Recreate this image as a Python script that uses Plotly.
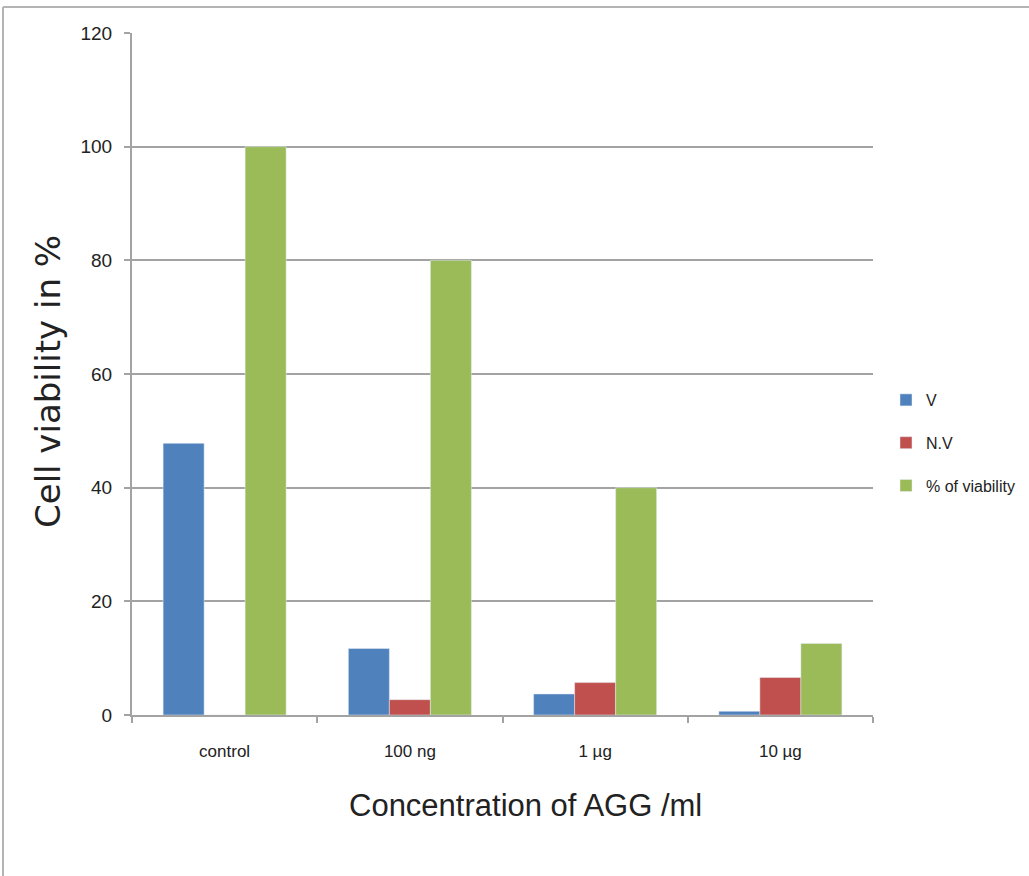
import plotly.graph_objects as go

# Cell viability after AGG treatment
categories = ["control", "100 ng", "1 µg", "10 µg"]
viable = [47.8, 11.7, 3.7, 0.65]
non_viable = [0, 2.7, 5.7, 6.6]
pct_viability = [100, 80, 40, 12.6]
y_ticks = [0, 20, 40, 60, 80, 100, 120]

NARROW = "Liberation Sans Narrow, Arial Narrow, Liberation Sans, sans-serif"
GRID = "#a3a3a3"

fig = go.Figure()
fig.add_trace(go.Bar(name="V", x=categories, y=viable, marker_color="#4F81BD",
                     legendgroup="a"))
fig.add_trace(go.Bar(name="N.V", x=categories, y=non_viable, marker_color="#C0504D",
                     legendgroup="b"))
fig.add_trace(go.Bar(name="% of viability", x=categories, y=pct_viability,
                     marker_color="#9BBB59", legendgroup="c"))

# plot-area geometry in pixels, used to place the frame lines and titles
L, R, T, B = 132, 873, 33, 715
W, H = R - L, B - T


def px(xp):
    return (xp - L) / W


def py(yp):
    return (B - yp) / H


frame = dict(color="#b4b4b4", width=2)
fig.add_shape(type="line", xref="paper", yref="paper",
              x0=px(3), x1=px(1032), y0=py(7), y1=py(7), line=frame)
fig.add_shape(type="line", xref="paper", yref="paper",
              x0=px(3), x1=px(3), y0=py(7), y1=py(880), line=frame)

fig.add_annotation(text="Concentration of AGG /ml", xref="paper", yref="paper",
                   x=px(525), y=py(806), xanchor="center", yanchor="middle",
                   showarrow=False,
                   font=dict(family=NARROW, size=31, color="#222"))
fig.add_annotation(text="Cell viability in %", xref="paper", yref="paper",
                   x=px(48), y=py(382), xanchor="center", yanchor="middle",
                   showarrow=False, textangle=-90,
                   font=dict(family="DejaVu Sans, sans-serif", size=34,
                             color="#222"))

fig.update_layout(
    width=1029, height=876,
    margin=dict(l=L, r=1029 - R, t=T, b=876 - B, pad=0, autoexpand=False),
    paper_bgcolor="white", plot_bgcolor="white",
    barmode="group", bargap=0.336, bargroupgap=0,
    showlegend=True,
    legend=dict(x=px(886), y=py(443), xanchor="left", yanchor="middle",
                traceorder="grouped", tracegroupgap=19,
                font=dict(family=NARROW, size=16, color="#222"),
                bgcolor="rgba(0,0,0,0)"),
    xaxis=dict(
        showline=True, linecolor=GRID, linewidth=2,
        ticks="outside", tickson="boundaries", ticklen=6, tickcolor=GRID,
        tickwidth=2, ticklabelstandoff=20,
        tickfont=dict(family=NARROW, size=17, color="#222"),
        showgrid=False,
    ),
    yaxis=dict(
        range=[0, 120], tickvals=y_ticks,
        showline=True, linecolor=GRID, linewidth=2,
        ticks="outside", ticklen=6, tickcolor=GRID, tickwidth=2,
        ticklabelstandoff=8,
        tickfont=dict(family=NARROW, size=19, color="#222"),
        showgrid=True, gridcolor=GRID, gridwidth=2,
        zeroline=False,
    ),
)

fig.write_html("out.html")
